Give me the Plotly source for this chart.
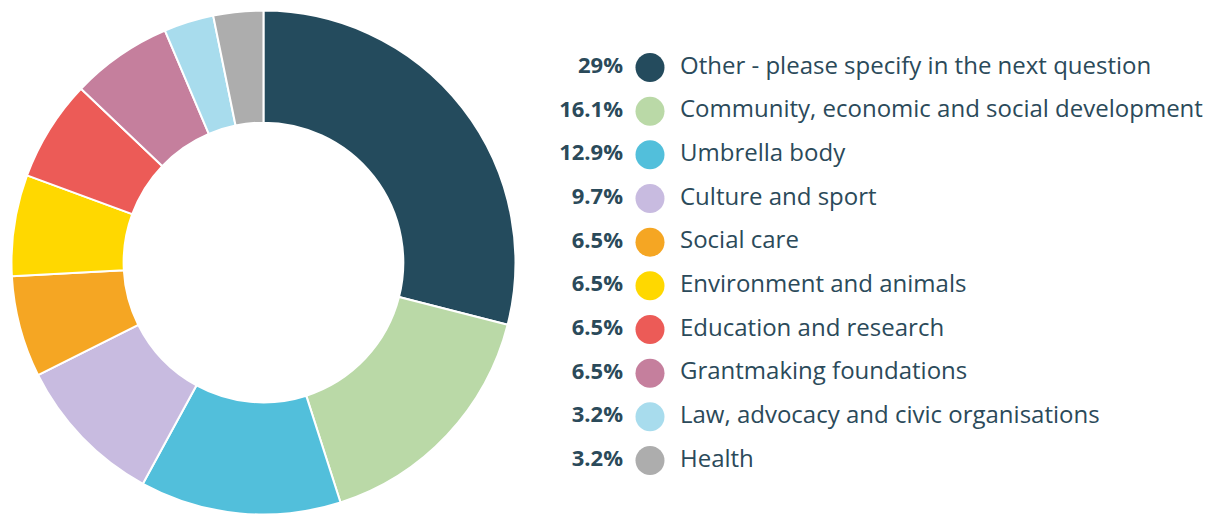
import plotly.graph_objects as go

categories = [
    "Other - please specify in the next question",
    "Community, economic and social development",
    "Umbrella body",
    "Culture and sport",
    "Social care",
    "Environment and animals",
    "Education and research",
    "Grantmaking foundations",
    "Law, advocacy and civic organisations",
    "Health",
]
values = [29, 16.1, 12.9, 9.7, 6.5, 6.5, 6.5, 6.5, 3.2, 3.2]
colors = ["#244b5d", "#bad9a7", "#52bfdb", "#c8bbe0", "#f5a623",
          "#ffd800", "#ec5b57", "#c57f9d", "#a8dced", "#adadad"]

W, H = 1222, 518
TEXT = "#2b4a5a"
FONT = "Open Sans"

pct_labels = [f"{v:g}%" for v in values]
idx = list(range(len(categories)))

fig = go.Figure()

fig.add_trace(go.Pie(
    labels=categories, values=values, sort=False, direction="clockwise",
    rotation=0, hole=0.555, textinfo="none", hoverinfo="label+percent",
    marker=dict(colors=colors, line=dict(color="white", width=2)),
    domain=dict(x=[0.0094, 0.4218], y=[0.0067, 0.9797]),
    showlegend=False,
))

# legend built as scatter traces
fig.add_trace(go.Scatter(
    x=[650] * len(idx), y=idx, mode="markers",
    marker=dict(size=29, color=colors, line=dict(width=0)),
    showlegend=False, hoverinfo="skip",
))
fig.add_trace(go.Scatter(
    x=[623] * len(idx), y=idx, mode="text", text=pct_labels,
    textposition="middle left",
    textfont=dict(family=FONT, size=22, color=TEXT, weight="bold"),
    showlegend=False, hoverinfo="skip",
))
fig.add_trace(go.Scatter(
    x=[680] * len(idx), y=idx, mode="text", text=categories,
    textposition="middle right",
    textfont=dict(family=FONT, size=24, color=TEXT, weight=500),
    showlegend=False, hoverinfo="skip",
))

first_px, step_px = 67.5, 43.67
fig.update_layout(
    width=W, height=H,
    margin=dict(l=0, r=0, t=0, b=0),
    paper_bgcolor="white", plot_bgcolor="rgba(0,0,0,0)",
    xaxis=dict(range=[0, W], visible=False, fixedrange=True),
    yaxis=dict(range=[(H - first_px) / step_px, -first_px / step_px],
               visible=False, fixedrange=True),
)

fig.write_html("out.html", config={"displayModeBar": False},
               post_script="document.body.style.margin='0';")
